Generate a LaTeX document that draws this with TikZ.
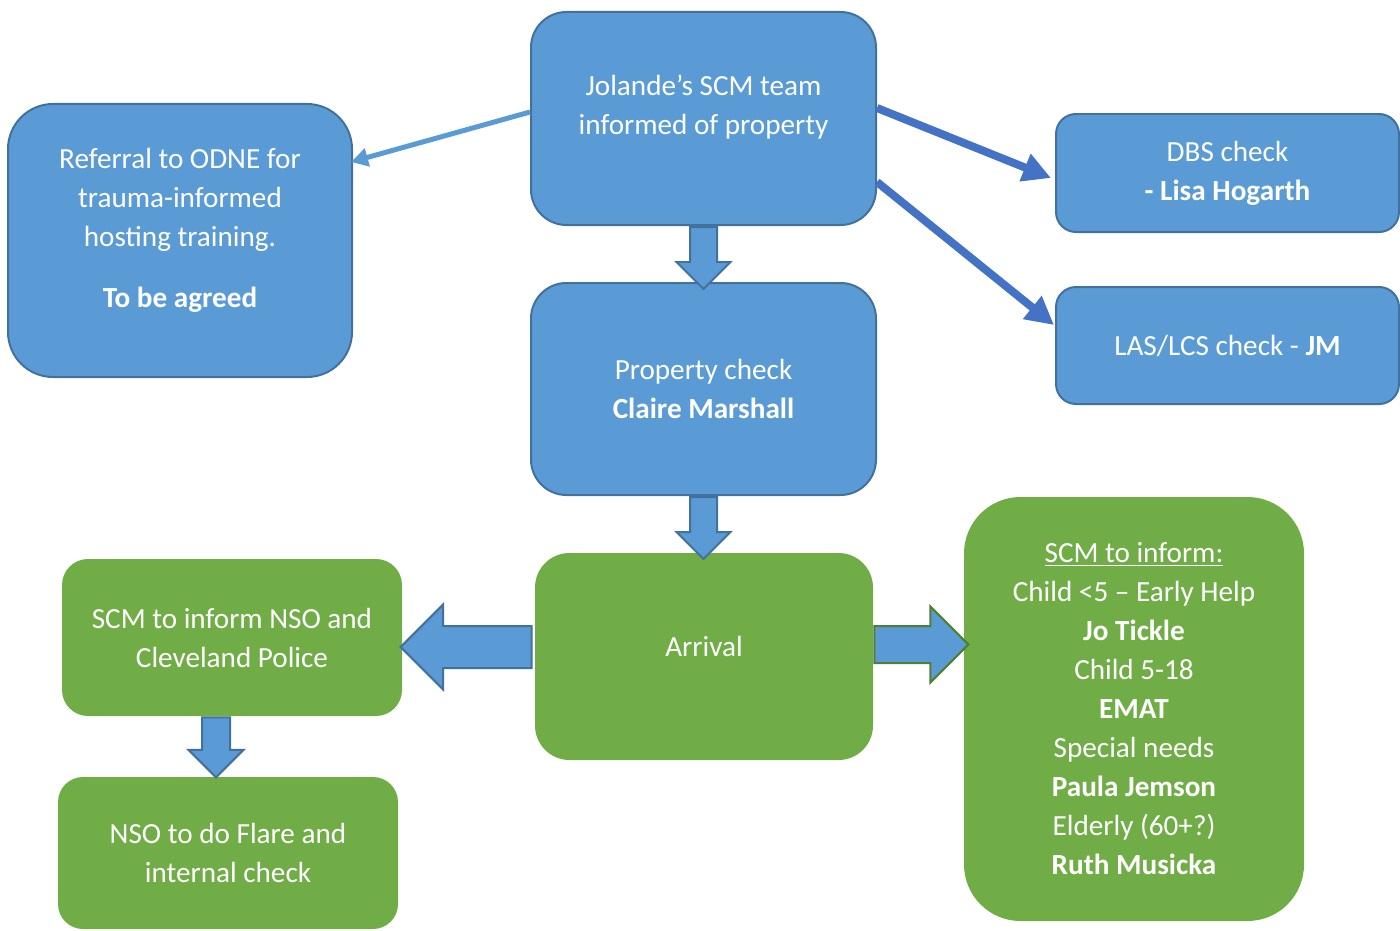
\documentclass[tikz,border=0pt]{standalone}
\usepackage{fontspec}
\setmainfont{Carlito}
\usetikzlibrary{shapes.arrows,arrows.meta}

\definecolor{boxblue}{RGB}{91,155,213}
\definecolor{edgeblue}{RGB}{65,113,156}
\definecolor{arrowblue}{RGB}{68,114,196}
\definecolor{boxgreen}{RGB}{112,173,71}
\definecolor{edgegreen}{RGB}{80,126,50}

\begin{document}
\begin{tikzpicture}[
  boxtext/.style={text=white, align=center, font=\fontsize{16.6}{22.2}\selectfont},
  bluebox/.style={boxtext, draw=edgeblue, fill=boxblue, line width=0.04cm},
  greenbox/.style={boxtext, fill=boxgreen},
  thinarrow/.style={-{Triangle[length=0.34cm,width=0.36cm]}, line width=0.1cm, boxblue},
  thickarrow/.style={-{Triangle[length=0.56cm,width=0.56cm]}, line width=0.16cm, arrowblue},
  blockarrow/.style={single arrow, draw=edgeblue, fill=boxblue, line width=0.04cm, inner xsep=0pt, anchor=tail}
]
  \useasboundingbox (0,0) rectangle (28,-18.62);

  % Blue boxes
  \node[bluebox, minimum width=6.9cm, minimum height=4.26cm, rounded corners=0.71cm,
    label={[boxtext, name=jolandetext, yshift=0.22cm]center:{Jolande's SCM team\\informed of property}}]
    (jolande) at (14.07,-2.37) {};
  \node[bluebox, minimum width=6.88cm, minimum height=5.46cm, rounded corners=0.9cm,
    label={[boxtext, name=referraltext, yshift=0.21cm]center:{Referral to ODNE for\\trauma-informed\\hosting training.\\[0.44cm]\textbf{To be agreed}}}]
    (referral) at (3.6,-4.81) {};
  \node[bluebox, minimum width=6.86cm, minimum height=2.36cm, rounded corners=0.4cm]
    (dbs) at (24.55,-3.46) {DBS check\\\textbf{- Lisa Hogarth}};
  \node[bluebox, minimum width=6.86cm, minimum height=2.34cm, rounded corners=0.4cm]
    (las) at (24.55,-6.91) {LAS/LCS check - \textbf{JM}};
  \node[bluebox, minimum width=6.9cm, minimum height=4.24cm, rounded corners=0.71cm]
    (property) at (14.07,-7.78) {Property check\\\textbf{Claire Marshall}};

  % Green boxes
  \node[greenbox, minimum width=6.76cm, minimum height=4.14cm, rounded corners=0.69cm,
    label={[boxtext, name=arrivaltext, yshift=0.21cm]center:Arrival}]
    (arrival) at (14.08,-13.13) {};
  \node[greenbox, minimum width=6.8cm, minimum height=3.14cm, rounded corners=0.52cm]
    (scmnso) at (4.64,-12.75) {SCM to inform NSO and\\Cleveland Police};
  \node[greenbox, minimum width=6.8cm, minimum height=3.04cm, rounded corners=0.5cm]
    (flare) at (4.56,-17.06) {NSO to do Flare and\\internal check};
  \node[greenbox, minimum width=6.8cm, minimum height=8.48cm, rounded corners=1.13cm]
    (inform) at (22.68,-14.18) {\underline{SCM to inform:}\\Child <5 – Early Help\\\textbf{Jo Tickle}\\Child 5-18\\\textbf{EMAT}\\Special needs\\\textbf{Paula Jemson}\\Elderly (60+?)\\\textbf{Ruth Musicka}};

  % Line arrows
  \draw[thinarrow] ([yshift=0.13cm]jolande.west) -- ([xshift=-0.04cm,yshift=1.57cm]referral.east);
  \draw[thickarrow] ([yshift=0.21cm]jolande.east) -- ([xshift=-0.08cm,yshift=-0.1cm]dbs.west);
  \draw[thickarrow] ([yshift=-1.27cm]jolande.east) -- ([xshift=-0.02cm,yshift=0.41cm]las.west);

  % Block arrows
  \node[blockarrow, rotate=-90, minimum height=1.24cm, inner ysep=0.25cm, single arrow head extend=0.27cm]
    (down1) at (jolande.south) {};
  \node[blockarrow, rotate=-90, minimum height=1.24cm, inner ysep=0.25cm, single arrow head extend=0.27cm]
    (down2) at (property.south) {};
  \node[blockarrow, rotate=-90, minimum height=1.2cm, inner ysep=0.26cm, single arrow head extend=0.27cm]
    (down3) at ([xshift=-0.32cm]scmnso.south) {};
  \node[blockarrow, rotate=180, minimum height=2.62cm, inner ysep=0.4cm, single arrow head extend=0.43cm]
    (toleft) at ([xshift=-0.04cm,yshift=0.19cm]arrival.west) {};
  \node[blockarrow, draw=edgegreen, minimum height=1.88cm, inner ysep=0.35cm, single arrow head extend=0.39cm]
    (toright) at ([yshift=0.24cm]arrival.east) {};
\end{tikzpicture}
\end{document}
